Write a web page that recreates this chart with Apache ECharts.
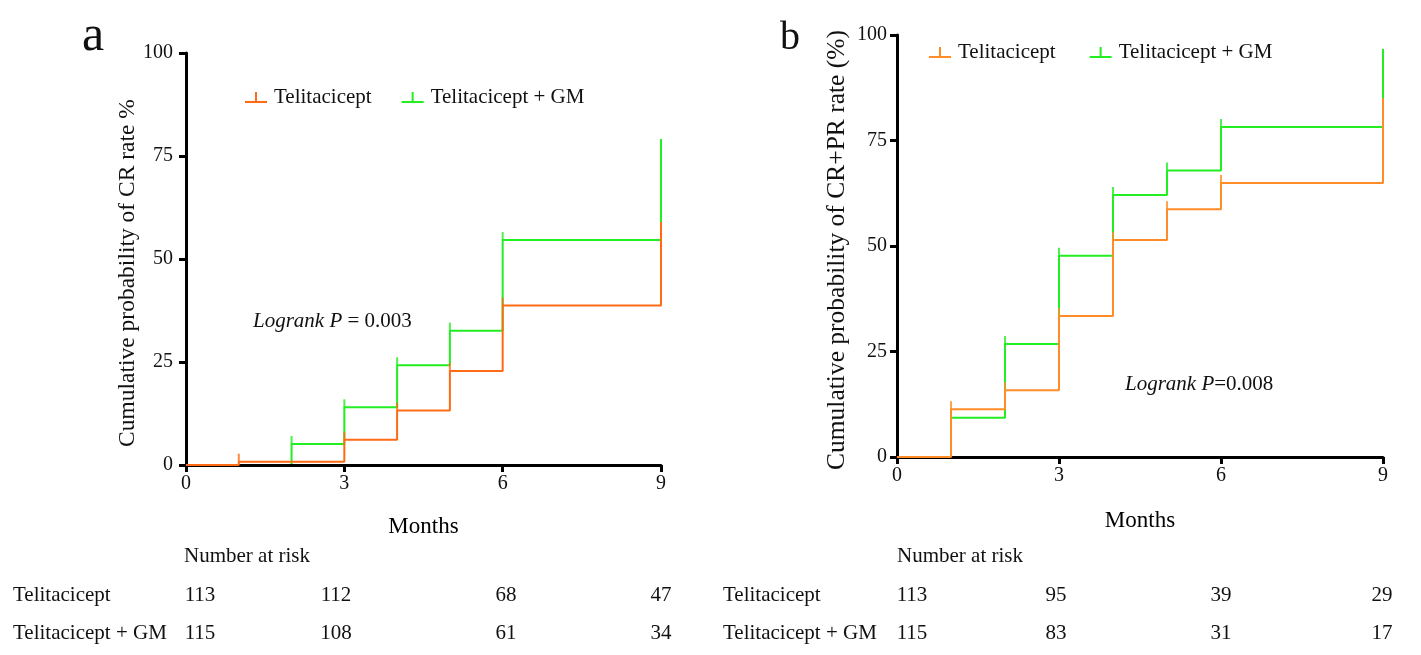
<!DOCTYPE html>
<html>
<head>
<meta charset="utf-8">
<script src="https://cdn.jsdelivr.net/npm/echarts@6/dist/echarts.min.js"></script>
<style>
  html, body { margin: 0; padding: 0; background: #fff; }
  #main { width: 1421px; height: 655px; }
</style>
</head>
<body>
<div id="main"></div>
<script>
// panel a: cumulative CR rate (%)
var crTeliMonths = [0, 1, 3, 4, 5, 6, 9];
var crTeliValues = [0, 0.8, 6.1, 13.2, 22.8, 38.7, 59.0];
var crGmMonths = [0, 2, 3, 4, 5, 6, 9];
var crGmValues = [0, 5.1, 14.0, 24.2, 32.6, 54.6, 79.1];

// panel b: cumulative CR+PR rate (%)
var prTeliMonths = [0, 1, 2, 3, 4, 5, 6, 9];
var prTeliValues = [0, 11.3, 15.8, 33.4, 51.4, 58.7, 64.9, 85.0];
var prGmMonths = [0, 1, 2, 3, 4, 5, 6, 9];
var prGmValues = [0, 9.3, 26.8, 47.7, 62.1, 67.9, 78.2, 96.7];

// number at risk
var riskMonths = [0, 3, 6, 9];
var riskCrTeli = [113, 112, 68, 47];
var riskCrGm = [115, 108, 61, 34];
var riskPrTeli = [113, 95, 39, 29];
var riskPrGm = [115, 83, 31, 17];

var groupNames = ['Telitacicept', 'Telitacicept + GM'];

var FONT = '"Liberation Serif", "Times New Roman", serif';
var ORANGE_A = '#ff6a14';
var ORANGE_B = '#ff8c26';
var GREEN = '#22ee22';
var legendIcon = 'path://M0,9 L22,9 L22,11 L0,11 Z M10,0 L12,0 L12,9 L10,9 Z';

function pairs(xs, ys) {
  return xs.map(function (x, i) { return [x, ys[i]]; });
}
// censor ticks sit on every inner step
function ticks(xs, ys) {
  return pairs(xs, ys).slice(1, -1);
}

function stepSeries(name, idx, xs, ys, color, z) {
  return [{
    name: name,
    type: 'line',
    step: 'end',
    xAxisIndex: idx,
    yAxisIndex: idx,
    data: pairs(xs, ys),
    symbol: 'none',
    color: color,
    lineStyle: { color: color, width: 2 },
    z: z,
    silent: true
  }, {
    name: name,
    type: 'scatter',
    xAxisIndex: idx,
    yAxisIndex: idx,
    data: ticks(xs, ys),
    symbol: 'rect',
    symbolSize: [2, 8],
    symbolOffset: [0, -4],
    itemStyle: { color: color },
    z: z,
    silent: true
  }];
}

function xAxisOf(idx, gap) {
  return {
    gridIndex: idx,
    type: 'value',
    min: 0, max: 9, interval: 3,
    z: 2,
    name: 'Months',
    nameLocation: 'middle',
    nameGap: gap,
    nameTextStyle: { fontFamily: FONT, fontSize: 23, color: '#000' },
    axisLine: { lineStyle: { color: '#000', width: 3 } },
    axisTick: { length: 7, lineStyle: { color: '#000', width: 3 } },
    axisLabel: { margin: 9, fontFamily: FONT, fontSize: 20, color: '#111' },
    splitLine: { show: false }
  };
}
function yAxisOf(idx, margin) {
  return {
    gridIndex: idx,
    type: 'value',
    min: 0, max: 100, interval: 25,
    z: 2,
    axisLine: { show: true, lineStyle: { color: '#000', width: 3 } },
    axisTick: { show: true, length: 7, lineStyle: { color: '#000', width: 3 } },
    axisLabel: { margin: margin, fontFamily: FONT, fontSize: 20, color: '#111' },
    splitLine: { show: false }
  };
}
function legendOf(left, top, orange, gap) {
  return {
    left: left, top: top,
    orient: 'horizontal',
    itemWidth: 22, itemHeight: 11, itemGap: gap,
    selectedMode: false,
    icon: legendIcon,
    textStyle: { fontFamily: FONT, fontSize: 21, color: '#111', padding: [2, 0, 0, 2] },
    data: [
      { name: groupNames[0], itemStyle: { color: orange } },
      { name: groupNames[1], itemStyle: { color: GREEN } }
    ]
  };
}

function txt(x, y, text, size, opts) {
  opts = opts || {};
  return {
    type: 'text', x: x, y: y, rotation: opts.rotation || 0, silent: true,
    style: {
      text: text,
      font: (opts.italic ? 'italic ' : '') + size + 'px ' + FONT,
      fill: '#111',
      textAlign: opts.align || 'left',
      textVerticalAlign: 'middle',
      rich: opts.rich
    }
  };
}

var italicRich = { i: { font: 'italic 21px ' + FONT, fill: '#111' } };
var graphics = [
  txt(93, 37, 'a', 50, { align: 'center' }),
  txt(790, 38, 'b', 40, { align: 'center' }),
  txt(128, 273, 'Cumulative probability of CR rate %', 23.5, { align: 'center', rotation: Math.PI / 2 }),
  txt(837, 250, 'Cumulative probability of CR+PR rate (%)', 25.5, { align: 'center', rotation: Math.PI / 2 }),
  txt(253, 321, '{i|Logrank P} = 0.003', 21, { rich: italicRich }),
  txt(1125, 384, '{i|Logrank P}=0.008', 21, { rich: italicRich }),
  txt(184, 556, 'Number at risk', 21),
  txt(897, 556, 'Number at risk', 21),
  txt(13, 595, groupNames[0], 21),
  txt(13, 633, groupNames[1], 21),
  txt(723, 595, groupNames[0], 21),
  txt(723, 633, groupNames[1], 21)
];

// risk table columns (pixel centres of each column)
var colsCr = [200, 336, 506, 661];
var colsPr = [912, 1056, 1221, 1382];
riskMonths.forEach(function (m, i) {
  graphics.push(txt(colsCr[i], 595, String(riskCrTeli[i]), 21, { align: 'center' }));
  graphics.push(txt(colsCr[i], 633, String(riskCrGm[i]), 21, { align: 'center' }));
  graphics.push(txt(colsPr[i], 595, String(riskPrTeli[i]), 21, { align: 'center' }));
  graphics.push(txt(colsPr[i], 633, String(riskPrGm[i]), 21, { align: 'center' }));
});

var chart = echarts.init(document.getElementById('main'), null, { renderer: 'canvas' });
chart.setOption({
  backgroundColor: '#fff',
  animation: false,
  grid: [
    { left: 186, top: 53, width: 475, height: 412 },
    { left: 897, top: 35, width: 486, height: 422 }
  ],
  xAxis: [xAxisOf(0, 50), xAxisOf(1, 52)],
  yAxis: [yAxisOf(0, 13), yAxisOf(1, 10)],
  legend: [legendOf(240, 82, ORANGE_A, 30), legendOf(924, 37, ORANGE_B, 34)],
  graphic: graphics,
  series: [].concat(
    stepSeries(groupNames[1], 0, crGmMonths, crGmValues, GREEN, 1),
    stepSeries(groupNames[0], 0, crTeliMonths, crTeliValues, ORANGE_A, 3),
    stepSeries(groupNames[1], 1, prGmMonths, prGmValues, GREEN, 1),
    stepSeries(groupNames[0], 1, prTeliMonths, prTeliValues, ORANGE_B, 3)
  )
});
</script>
</body>
</html>
